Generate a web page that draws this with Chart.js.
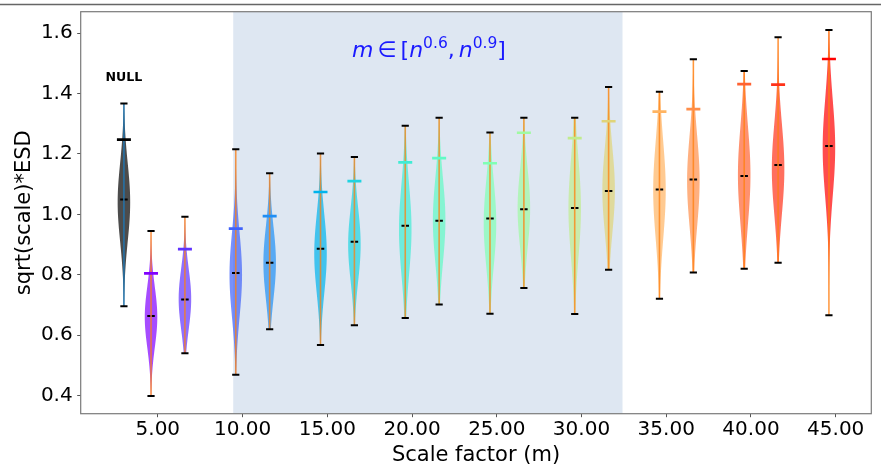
<!DOCTYPE html>
<html>
<head>
<meta charset="utf-8">
<script src="https://cdn.jsdelivr.net/npm/chart.js@4/dist/chart.umd.min.js"></script>
<style>
  body { margin: 0; background: #fff; }
  #wrap { width: 881px; height: 473px; position: relative; }
</style>
</head>
<body>
<div id="wrap"><canvas id="chart" width="881" height="473"></canvas></div>
<script>
// violin data
const positions = [3, 4.6, 6.6, 9.6, 11.6, 14.6, 16.6, 19.6, 21.6, 24.6, 26.6, 29.6, 31.6, 34.6, 36.6, 39.6, 41.6, 44.6];
const mins    = [0.696, 0.399, 0.540, 0.469, 0.620, 0.568, 0.633, 0.657, 0.702, 0.671, 0.756, 0.670, 0.817, 0.721, 0.808, 0.820, 0.840, 0.666];
const maxs    = [1.367, 0.945, 0.992, 1.215, 1.136, 1.201, 1.190, 1.293, 1.320, 1.271, 1.320, 1.320, 1.421, 1.406, 1.513, 1.474, 1.586, 1.610];
const means   = [1.247, 0.805, 0.885, 0.953, 0.994, 1.074, 1.110, 1.172, 1.186, 1.169, 1.270, 1.252, 1.308, 1.340, 1.348, 1.431, 1.429, 1.514];
const medians = [1.049, 0.664, 0.718, 0.806, 0.840, 0.886, 0.909, 0.962, 0.979, 0.986, 1.017, 1.021, 1.077, 1.082, 1.115, 1.127, 1.163, 1.226];
// where each violin is widest and how fast it tapers
const peaks   = [1.04, 0.66, 0.72, 0.80, 0.84, 0.87, 0.90, 0.95, 0.98, 0.97, 1.02, 1.02, 1.08, 1.08, 1.11, 1.13, 1.15, 1.22];
const spreads = [0.13, 0.10, 0.10, 0.14, 0.12, 0.13, 0.12, 0.15, 0.14, 0.14, 0.13, 0.16, 0.14, 0.16, 0.15, 0.16, 0.15, 0.16];

const colors = ['#000000', '#8000ff', '#6032fe', '#4062fa', '#208ef4', '#00b4ec', '#20d4e1', '#40ecd4', '#60fac5',
  '#80ffb4', '#a0faa2', '#c0ec8e', '#e0d478', '#ffb462', '#ff8e4a', '#ff6232', '#ff3219', '#ff0000'];

const xTicks = [5, 10, 15, 20, 25, 30, 35, 40, 45];
const yTicks = [0.4, 0.6, 0.8, 1.0, 1.2, 1.4, 1.6];
const shadeFrom = 9.45, shadeTo = 32.42;
const nullLabel = { x: 3, y: 1.44, text: 'NULL' };
const rangeLabel = { x: 21, y: 1.52 };

function hexA(hex, a) {
  const n = parseInt(hex.slice(1), 16);
  return `rgba(${n >> 16},${(n >> 8) & 255},${n & 255},${a})`;
}

const violinPlugin = {
  id: 'violins',
  beforeDraw(chart) {
    const c = chart.ctx;
    c.save();
    c.strokeStyle = '#666';
    c.lineWidth = 1.4;
    c.beginPath(); c.moveTo(0, 4.5); c.lineTo(881, 4.5); c.stroke();
    c.restore();
  },
  beforeDatasetsDraw(chart) {
    const c = chart.ctx, x = chart.scales.x, y = chart.scales.y, a = chart.chartArea;
    c.save();
    c.beginPath(); c.rect(a.left, a.top, a.right - a.left, a.bottom - a.top); c.clip();
    // shaded band
    c.fillStyle = 'rgb(222,231,242)';
    const sx = x.getPixelForValue(shadeFrom), ex = x.getPixelForValue(shadeTo);
    c.fillRect(sx, a.top, ex - sx, a.bottom - a.top);
    // bodies
    const halfW = 0.37;
    positions.forEach((p, i) => {
      const steps = 80, pts = [];
      for (let k = 0; k <= steps; k++) {
        const v = mins[i] + (maxs[i] - mins[i]) * k / steps;
        const d = (v - peaks[i]) / spreads[i];
        pts.push([v, halfW * Math.exp(-0.5 * d * d)]);
      }
      c.beginPath();
      pts.forEach(([v, w], k) => {
        const px = x.getPixelForValue(p + w), py = y.getPixelForValue(v);
        k ? c.lineTo(px, py) : c.moveTo(px, py);
      });
      for (let k = pts.length - 1; k >= 0; k--) {
        c.lineTo(x.getPixelForValue(p - pts[k][1]), y.getPixelForValue(pts[k][0]));
      }
      c.closePath();
      c.fillStyle = hexA(colors[i], 0.7);
      c.fill();
      // vertical range line
      c.strokeStyle = i === 0 ? 'rgba(31,119,180,0.85)' : 'rgba(255,127,14,0.75)';
      c.lineWidth = 1.6;
      c.beginPath();
      c.moveTo(x.getPixelForValue(p), y.getPixelForValue(mins[i]));
      c.lineTo(x.getPixelForValue(p), y.getPixelForValue(maxs[i]));
      c.stroke();
    });
    c.restore();
  },
  afterDatasetsDraw(chart) {
    const c = chart.ctx, x = chart.scales.x, y = chart.scales.y, a = chart.chartArea;
    c.save();
    // medians as short dashed black lines
    c.strokeStyle = '#000';
    c.lineWidth = 2;
    c.setLineDash([3, 1.5]);
    positions.forEach((p, i) => {
      const px = x.getPixelForValue(p), py = y.getPixelForValue(medians[i]);
      c.beginPath(); c.moveTo(px - 3.75, py); c.lineTo(px + 3.75, py); c.stroke();
    });
    c.setLineDash([]);
    // frame
    c.strokeStyle = '#7a7a7a';
    c.lineWidth = 1.2;
    c.strokeRect(a.left, a.top, a.right - a.left, a.bottom - a.top);
    // NULL label
    c.fillStyle = '#000';
    c.font = 'bold 12.6px "DejaVu Sans"';
    c.textAlign = 'center';
    c.textBaseline = 'alphabetic';
    c.fillText(nullLabel.text, x.getPixelForValue(nullLabel.x), y.getPixelForValue(nullLabel.y));
    // m ∈ [n^0.6, n^0.9]
    const fs = 22, sfs = 15.5;
    const parts = [
      { t: 'm', it: true }, { gap: 4 }, { t: '∈' }, { gap: 4 }, { t: '[' }, { t: 'n', it: true },
      { t: '0.6', sup: true }, { t: ',' }, { gap: 4 }, { t: 'n', it: true }, { t: '0.9', sup: true }, { t: ']' }
    ];
    const fontOf = q => q.sup ? `${sfs}px "DejaVu Sans"` : (q.it ? `oblique ${fs}px "DejaVu Sans"` : `${fs}px "DejaVu Sans"`);
    let total = 0;
    parts.forEach(q => {
      if (q.gap) { q.w = q.gap; } else { c.font = fontOf(q); q.w = c.measureText(q.t).width; }
      total += q.w;
    });
    let cx = x.getPixelForValue(rangeLabel.x) - total / 2;
    const base = y.getPixelForValue(rangeLabel.y);
    c.fillStyle = '#1a1aff';
    c.textAlign = 'left';
    parts.forEach(q => {
      if (!q.gap) {
        c.font = fontOf(q);
        c.fillText(q.t, cx, q.sup ? base - 9 : base);
      }
      cx += q.w;
    });
    c.restore();
  }
};

const capPoints = [];
positions.forEach((p, i) => {
  capPoints.push({ x: p, y: mins[i] });
  capPoints.push({ x: p, y: maxs[i] });
});

new Chart(document.getElementById('chart'), {
  type: 'scatter',
  data: {
    datasets: [
      {
        label: 'mean',
        data: positions.map((p, i) => ({ x: p, y: means[i] })),
        pointStyle: 'line',
        pointRadius: 7,
        pointBorderWidth: 2.7,
        pointBorderColor: colors,
        pointBackgroundColor: colors
      },
      {
        label: 'extremes',
        data: capPoints,
        pointStyle: 'line',
        pointRadius: 3.6,
        pointBorderWidth: 2,
        pointBorderColor: '#000'
      }
    ]
  },
  options: {
    responsive: false,
    animation: false,
    layout: { padding: { left: 0, right: 3.6, top: 11.7, bottom: 0 } },
    plugins: { legend: { display: false }, tooltip: { enabled: false } },
    scales: {
      x: {
        type: 'linear',
        min: 0.45,
        max: 47.1,
        afterFit: s => { s.height = 59.3; s.paddingLeft = 0; s.paddingRight = 0; },
        afterBuildTicks: s => { s.ticks = xTicks.map(v => ({ value: v })); },
        grid: { drawOnChartArea: false, drawTicks: true, tickLength: 3.5, color: '#555' },
        border: { display: false },
        ticks: {
          padding: 0.5,
          color: '#000',
          font: { family: 'DejaVu Sans', size: 20 },
          callback: v => v.toFixed(2)
        },
        title: {
          display: true,
          text: 'Scale factor (m)',
          color: '#000',
          font: { family: 'DejaVu Sans', size: 21 },
          padding: { top: 0, bottom: 5 }
        }
      },
      y: {
        type: 'linear',
        min: 0.3404,
        max: 1.6705,
        afterFit: s => { s.width = 80.7; s.paddingTop = 0; s.paddingBottom = 0; },
        afterBuildTicks: s => { s.ticks = yTicks.map(v => ({ value: v })); },
        grid: { drawOnChartArea: false, drawTicks: true, tickLength: 3.5, color: '#555' },
        border: { display: false },
        ticks: {
          padding: 4.5,
          color: '#000',
          font: { family: 'DejaVu Sans', size: 20 },
          callback: v => v.toFixed(1)
        },
        title: {
          display: true,
          text: 'sqrt(scale)*ESD',
          color: '#000',
          font: { family: 'DejaVu Sans', size: 21 },
          padding: { top: 12, bottom: 0 }
        }
      }
    }
  },
  plugins: [violinPlugin]
});
</script>
</body>
</html>
